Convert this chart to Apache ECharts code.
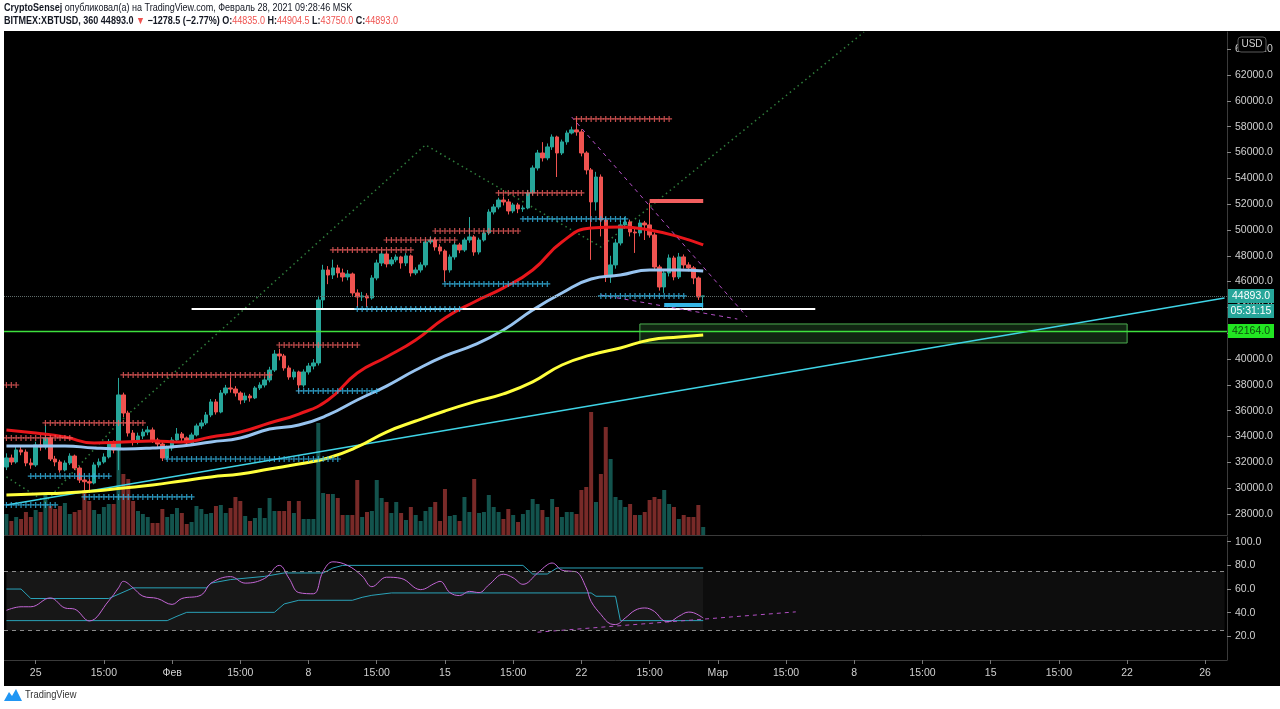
<!DOCTYPE html>
<html>
<head>
<meta charset="utf-8">
<script src="https://cdn.jsdelivr.net/npm/echarts@6/dist/echarts.min.js"></script>
<style>
  html, body { margin: 0; padding: 0; background: #fff; }
  #chart { width: 1280px; height: 709px; }
</style>
</head>
<body>
<div id="chart"></div>
<script>
// 6h slots (candle time), Jan 23 2021 .. end of March
const slotCount = 251;
const startTime = Date.UTC(2021, 0, 23, 0);
const categories = [];
for (let k = 0; k < slotCount; k++) {
  categories.push(new Date(startTime + k * 6 * 3600e3).toISOString().slice(0, 13));
}

// x axis tick labels (slot index -> text)
const tickIdx = [6, 20, 34, 48, 62, 76, 90, 104, 118, 132, 146, 160, 174, 188, 202, 216, 230, 246];
const tickText = ['25', '15:00', 'Фев', '15:00', '8', '15:00', '15', '15:00', '22', '15:00', 'Мар', '15:00', '8', '15:00', '15', '15:00', '22', '26'];

// candles, BITMEX:XBTUSD 360
const opens = [
  31640, 32340, 32030, 32960, 32800, 31950, 31800, 33350, 33190, 33890,
  32260, 32030, 31410, 31950, 32490, 31560, 30630, 30500, 30400, 31800,
  32030, 32420, 33580, 32960, 37220, 35820, 34270, 33580, 34040, 34350,
  34510, 33730, 33420, 32340, 33110, 33730, 34200, 33890, 33500, 34120,
  34820, 35050, 35670, 36680, 35900, 37370, 37760, 37680, 37370, 36830,
  37140, 36990, 37760, 37990, 38380, 39150, 40390, 40240, 39310, 38610,
  39000, 37990, 39000, 39460, 39700, 44580, 46900, 46510, 47060, 46670,
  46360, 46590, 45120, 44810, 44890, 44730, 46280, 47440, 48140, 47370,
  47680, 47910, 47440, 47990, 46670, 46900, 47290, 49070, 49220, 48680,
  48370, 46900, 47910, 48840, 48450, 49220, 49460, 48290, 49220, 49770,
  51390, 51780, 52320, 52170, 51470, 51940, 51630, 51700, 52870, 54800,
  55960, 55580, 56430, 57200, 55960, 56820, 57510, 57750, 57590, 55960,
  54650, 52170, 54100, 50770, 46360, 47290, 48990, 50390, 50620, 49840,
  49770, 50540, 50390, 49610, 47130, 45580, 46670, 47830, 46360, 47910,
  47290, 47060, 46280, 44835
];
const closes = [
  32340, 32030, 32960, 32800, 31950, 31800, 33350, 33190, 33890, 32260,
  32030, 31410, 31950, 32490, 31560, 30630, 30500, 30400, 31800, 32030,
  32420, 33580, 32960, 37220, 35820, 34270, 33580, 34040, 34350, 34510,
  33730, 33420, 32340, 33110, 33730, 34200, 33890, 33500, 34120, 34820,
  35050, 35670, 36680, 35900, 37370, 37760, 37680, 37370, 36830, 37140,
  36990, 37760, 37990, 38380, 39150, 40390, 40240, 39310, 38610, 39000,
  37990, 39000, 39460, 39700, 44580, 46900, 46510, 47060, 46670, 46360,
  46590, 45120, 44810, 44890, 44730, 46280, 47440, 48140, 47370, 47680,
  47910, 47440, 47990, 46670, 46900, 47290, 49070, 49220, 48680, 48370,
  46900, 47910, 48840, 48450, 49220, 49460, 48290, 49220, 49770, 51390,
  51780, 52320, 52170, 51470, 51940, 51630, 51700, 52870, 54800, 55960,
  55580, 56430, 57200, 55960, 56820, 57510, 57750, 57590, 55960, 54650,
  52170, 54100, 50770, 46360, 47290, 48990, 50390, 50620, 49840, 49770,
  50540, 50390, 49610, 47130, 45580, 46670, 47830, 46360, 47910, 47290,
  47060, 46280, 44810, 44893
];
const lows = [
  31400, 31800, 31900, 32550, 31700, 31500, 31650, 32900, 33000, 32100,
  31700, 31200, 31300, 31800, 31400, 30400, 29700, 29630, 30300, 31600,
  31900, 32300, 32700, 31400, 35500, 34000, 33300, 33400, 33800, 34100,
  33500, 33200, 32100, 32200, 32900, 33600, 33600, 33300, 33400, 34000,
  34600, 34900, 35500, 35700, 35800, 37200, 37400, 37100, 36500, 36600,
  36700, 36900, 37600, 37800, 38200, 39000, 39900, 39100, 38400, 38400,
  37400, 37800, 38800, 39200, 39500, 43900, 45800, 46200, 46300, 46000,
  46100, 44900, 44030, 44500, 44030, 44600, 46100, 47200, 47100, 47200,
  47500, 47000, 47200, 46400, 46500, 46700, 47100, 48900, 48400, 48100,
  45970, 46700, 47700, 48200, 48300, 49000, 48000, 48100, 49100, 49600,
  51200, 51600, 51900, 51200, 51300, 51300, 51400, 51600, 52700, 54600,
  55300, 55400, 56200, 54100, 55800, 56600, 57400, 57300, 55700, 54300,
  47680, 51500, 49500, 45970, 45900, 47000, 48800, 50100, 49500, 48220,
  49500, 49220, 49400, 46900, 45300, 45120, 46400, 46100, 46200, 47000,
  46800, 45800, 44580, 43750
];
const highs = [
  32700, 32600, 33250, 33300, 33000, 32300, 33600, 33700, 34890, 34000,
  32500, 32200, 32150, 32700, 32600, 31700, 30900, 30700, 32000, 32300,
  32700, 33800, 33700, 38540, 37400, 36000, 34500, 34300, 34600, 34800,
  34700, 33900, 33600, 33300, 33950, 34660, 34350, 34000, 34300, 35000,
  35300, 35900, 36900, 36900, 37600, 38000, 38540, 37900, 37500, 37400,
  37300, 37900, 38200, 38600, 39400, 40700, 40800, 40400, 39500, 39200,
  39100, 39200, 39700, 40000, 44900, 47300, 47200, 47700, 47300, 47000,
  46900, 46700, 45400, 45200, 45100, 46500, 47700, 48400, 48300, 47900,
  48100, 48000, 48200, 48100, 47100, 47500, 49300, 49500, 49400, 48900,
  48500, 48100, 49100, 49000, 49400, 51000, 49600, 49400, 50000, 51600,
  52000, 52500, 52600, 52400, 52100, 52100, 51900, 53100, 55000, 56200,
  56800, 56700, 57400, 57300, 57000, 57700, 58000, 58670, 57800, 56100,
  54800, 54500, 54300, 51000, 48000, 49300, 50700, 51000, 50800, 50100,
  50800, 50700, 52090, 49800, 47300, 46900, 48100, 48000, 48220, 48100,
  47500, 47200, 46400, 44904.5
];
const volumes = [
  21, 14, 18, 16, 23, 18, 25, 23, 41, 29, 26, 29, 32, 21, 23, 25, 45, 34, 25, 21,
  28, 31, 31, 85, 61, 56, 34, 24, 21, 18, 12, 12, 26, 18,
  21, 27, 22, 11, 13, 29, 26, 21, 22, 29, 30, 22, 27, 38, 34, 19, 14, 17, 27, 17,
  37, 24, 24, 24, 34, 22, 34, 16, 16, 16, 112, 42, 41, 41, 37,
  20, 20, 20, 55, 18, 23, 24, 55, 37, 33, 22, 33, 22, 15, 28, 20, 14, 24, 28, 33,
  14, 46, 19, 20, 14, 38, 23, 56, 22, 23, 40, 28, 23,
  16, 26, 20, 13, 21, 25, 36, 31, 25, 18, 36, 28, 18, 23, 23, 21, 45, 48, 123, 33,
  61, 108, 76, 38, 35, 28, 31, 20, 20, 23, 35, 38, 36, 45, 31, 28, 16, 20, 18, 18, 30, 8
];

// moving averages, read every 6th candle
const maIdx = [0, 6, 12, 18, 24, 30, 36, 42, 48, 54, 60, 66, 72, 78, 84, 90, 96, 102, 108, 114, 120, 126, 132, 138, 143];
const maRed = [34510, 34270, 33960, 33500, 33580, 33660, 33580, 33960, 34350, 35050, 35740, 36830, 38920, 40160, 41480, 43180, 44420, 45510, 46900, 49070, 50150, 50230, 50000, 49460, 48840];
const maBlue = [33270, 33270, 33270, 33110, 33040, 33110, 33270, 33580, 33890, 34580, 34890, 35670, 36830, 37910, 39150, 40240, 41090, 42250, 43800, 45120, 46200, 46510, 46900, 46900, 46820];
const maYellow = [29470, 29550, 29630, 29780, 30010, 30250, 30560, 30870, 31100, 31490, 31870, 32340, 33190, 34350, 35200, 35980, 36680, 37300, 38230, 39540, 40320, 40860, 41480, 41710, 41870];

// cross levels: [from slot, to slot, price]
const redRuns = [[0, 2, 37990], [24, 54, 38770], [0, 13, 33890], [8, 28, 35050], [56, 72, 41090], [67, 83, 48450], [78, 92, 49220], [88, 105, 49920], [101, 118, 52870], [117, 136, 58600]];
const blueRuns = [[0, 10, 28700], [5, 21, 30940], [16, 38, 29320], [33, 68, 32260], [60, 76, 37530], [72, 93, 43880], [90, 111, 45820], [106, 127, 50850], [122, 139, 44890]];
const redBar = [[132, 52245], [143, 52245]];
const blueBar = [[135, 44190], [143, 44190]];

// drawings
const whiteLine = [[38, 43880], [166, 43880]];
const cyanTrend = [[0, 28700], [250, 44730]];
const greenZigzag = [[0, 30870], [8, 28930], [23, 35050], [86, 56580], [122, 48680], [176, 65330]];
const wedgeUpper = [[116, 58750], [152, 43260]];
const wedgeLower = [[122, 44960], [150, 43100]];
const boxTop = 42717, boxBottom = 41246, boxFrom = 130, boxTo = 230;
const lastPrice = 44893.0, levelPrice = 42164.0;

const priceTicks = [28000, 30000, 32000, 34000, 36000, 38000, 40000, 42000, 44000, 46000, 48000, 50000, 52000, 54000, 56000, 58000, 60000, 62000, 64000];
const rsiTicks = [20, 40, 60, 80, 100];

// stoch / rsi pane
const rsiIdx = [0, 3, 5, 9, 12, 14, 17, 21, 23, 24, 26, 28, 31, 34, 36, 40, 42, 46, 49, 53, 56, 58, 60, 63, 65, 67, 70, 73, 75, 78, 81, 85, 88, 89, 91, 93, 95, 97, 99, 102, 104, 106, 109, 111, 112, 114, 116, 117, 119, 120, 122, 124, 125, 127, 129, 131, 133, 135, 136, 138, 140, 141, 143];
const rsiVal = [42, 45, 45, 52.5, 44, 43, 33, 50, 61, 66.5, 61, 54, 52, 47, 52, 55, 65, 70.5, 65, 69, 80, 69, 57, 56, 75, 83, 80, 71, 62, 70, 69, 59.5, 65, 66.5, 57, 54.5, 58, 57, 63.5, 72.5, 69.5, 64, 73.5, 80.5, 82, 76, 75, 74.5, 61, 49.5, 38.5, 30.5, 30, 35.5, 42, 44, 41, 33, 32.5, 37, 40.5, 40, 35.5];
const rsiUpIdx = [0, 3, 5, 21, 26, 41, 42, 46, 53, 57, 65, 67, 69, 106, 108, 111, 113, 143];
const rsiUpVal = [60, 60, 52, 52, 61, 61, 65, 68, 70.7, 73.6, 73.6, 77.8, 80, 80, 72.7, 72.7, 77.8, 77.8];
const rsiLoIdx = [0, 33, 35, 37, 55, 57, 60, 71, 73, 75, 79, 120, 121, 125, 126, 143];
const rsiLoVal = [33.3, 33.3, 37, 40.3, 40.3, 47.4, 50.5, 50.5, 53, 54.7, 56.7, 56.7, 53.9, 53.9, 33.3, 33.3];
const rsiTrend = [[109, 23.5], [162, 40.7]];

const UP = '#26a69a', DOWN = '#ef5350';
const FONT = '"Liberation Sans", Arial, sans-serif';
const crossPath = 'path://M2,0H3V2H5V3H3V5H2V3H0V2H2Z';

function pairs(idx, vals) {
  return idx.map((k, j) => [k, vals[j]]);
}
function runPoints(runs) {
  const pts = [];
  runs.forEach(r => {
    for (let k = r[0]; k <= r[1]; k++) pts.push([k, r[2]]);
  });
  return pts;
}
function showTick(idx) {
  return tickIdx.indexOf(idx) >= 0;
}
function hLine(name, value, color, type, width) {
  return {
    name: name, type: 'line', xAxisIndex: 0, yAxisIndex: 0, z: 2, data: [], symbol: 'none',
    markLine: {
      silent: true, symbol: 'none', label: { show: false },
      lineStyle: { color: color, width: width, type: type, opacity: 1 },
      emphasis: { disabled: true },
      data: [{ yAxis: value }]
    }
  };
}

const chart = echarts.init(document.getElementById('chart'));

const candleData = opens.map((o, i) => [o, closes[i], lows[i], highs[i]]);
const volumeData = volumes.map((v, i) => ({
  value: v,
  itemStyle: { color: closes[i] >= opens[i] ? 'rgba(38,166,154,0.5)' : 'rgba(239,83,80,0.5)' }
}));

const headStyle = { fontSize: 10.5, fontFamily: FONT, fill: '#131722' };
const staticGraphic = [
  { type: 'rect', z: 100, shape: { x: 0, y: 0, width: 1280, height: 31 }, style: { fill: '#fff' } },
  { type: 'rect', z: 100, shape: { x: 0, y: 686, width: 1280, height: 23 }, style: { fill: '#fff' } },
  { type: 'rect', z: 100, shape: { x: 0, y: 0, width: 4, height: 709 }, style: { fill: '#fff' } },
  {
    type: 'text', z: 101, x: 4, y: 8, scaleX: 0.86,
    style: Object.assign({
      text: '{b|CryptoSensej} опубликовал(а) на TradingView.com, Февраль 28, 2021 09:28:46 MSK',
      verticalAlign: 'middle',
      rich: { b: Object.assign({ fontWeight: 'bold' }, headStyle) }
    }, headStyle)
  },
  {
    type: 'text', z: 101, x: 4, y: 21, scaleX: 0.86,
    style: Object.assign({
      text: '{b|BITMEX:XBTUSD, 360 44893.0} {r|▼} {b|−1278.5 (−2.77%)} {b|O:}{r|44835.0} {b|H:}{r|44904.5} {b|L:}{r|43750.0} {b|C:}{r|44893.0}',
      verticalAlign: 'middle',
      rich: {
        b: Object.assign({ fontWeight: 'bold' }, headStyle),
        r: { fontSize: 10.5, fontFamily: FONT, fill: '#ef5350' }
      }
    }, headStyle)
  },
  {
    type: 'polygon', z: 101,
    shape: { points: [[4, 701], [9, 692], [12, 696], [16, 689], [22, 701]] },
    style: { fill: '#2196f3' }
  },
  {
    type: 'text', z: 101, x: 25, y: 695, scaleX: 0.85,
    style: { text: 'TradingView', fontSize: 11, fontFamily: FONT, fill: '#333', verticalAlign: 'middle' }
  }
];

const option = {
  backgroundColor: '#000',
  animation: false,
  grid: [
    { left: 4, right: 53, top: 32, height: 503 },
    { left: 4, right: 53, top: 537, height: 123 }
  ],
  xAxis: [
    {
      type: 'category', gridIndex: 0, data: categories, boundaryGap: true,
      axisLine: { show: true, lineStyle: { color: '#3a3a3a' } },
      axisTick: { show: false }, axisLabel: { show: false }, splitLine: { show: false }
    },
    {
      type: 'category', gridIndex: 1, data: categories, boundaryGap: true,
      axisLine: { show: true, lineStyle: { color: '#3a3a3a' } },
      axisTick: { show: true, interval: showTick, alignWithLabel: true, length: 4, lineStyle: { color: '#777' } },
      axisLabel: {
        interval: showTick, color: '#d0d0d0', fontSize: 10.5, fontFamily: FONT, margin: 8,
        formatter: (v, idx) => tickText[tickIdx.indexOf(idx)]
      },
      splitLine: { show: false }
    }
  ],
  yAxis: [
    {
      type: 'value', gridIndex: 0, position: 'right', min: 26373, max: 65331,
      axisLine: { show: true, lineStyle: { color: '#3a3a3a' } },
      axisTick: { show: true, length: 4, customValues: priceTicks, lineStyle: { color: '#888' } },
      axisLabel: {
        customValues: priceTicks, color: '#d0d0d0', fontSize: 10.5, fontFamily: FONT, margin: 8,
        formatter: v => v.toFixed(1)
      },
      splitLine: { show: false }
    },
    {
      type: 'value', gridIndex: 0, min: 0, max: 503, show: false, splitLine: { show: false }
    },
    {
      type: 'value', gridIndex: 1, position: 'right', min: 0, max: 104,
      axisLine: { show: true, lineStyle: { color: '#3a3a3a' } },
      axisTick: { show: true, length: 4, customValues: rsiTicks, lineStyle: { color: '#888' } },
      axisLabel: {
        customValues: rsiTicks, color: '#d0d0d0', fontSize: 10.5, fontFamily: FONT, margin: 8,
        formatter: v => v.toFixed(1)
      },
      splitLine: { show: false }
    }
  ],
  series: [
    {
      name: 'volume', type: 'bar', xAxisIndex: 0, yAxisIndex: 1, z: 1,
      data: volumeData, barCategoryGap: '18%'
    },
    {
      name: 'zigzag', type: 'line', xAxisIndex: 0, yAxisIndex: 0, z: 2,
      data: greenZigzag, symbol: 'none',
      lineStyle: { color: '#2f7d3c', width: 1.5, type: [1.5, 3.5] }
    },
    hLine('level', levelPrice, '#3ee03e', 'solid', 1.3),
    hLine('last', lastPrice, '#5f6b6a', 'dotted', 1),
    {
      name: 'box', type: 'line', xAxisIndex: 0, yAxisIndex: 0, z: 2, data: [], symbol: 'none',
      markArea: {
        silent: true,
        itemStyle: { color: 'rgba(76,175,80,0.22)', borderColor: '#4caf50', borderWidth: 1 },
        data: [[{ xAxis: boxFrom, yAxis: boxTop }, { xAxis: boxTo, yAxis: boxBottom }]]
      }
    },
    {
      name: 'trend', type: 'line', xAxisIndex: 0, yAxisIndex: 0, z: 2,
      data: cyanTrend, symbol: 'none', lineStyle: { color: '#3fd4e6', width: 1.5 }
    },
    {
      name: 'XBTUSD', type: 'candlestick', xAxisIndex: 0, yAxisIndex: 0, z: 3,
      data: candleData, barWidth: 4,
      itemStyle: { color: UP, color0: DOWN, borderColor: UP, borderColor0: DOWN, borderWidth: 1 }
    },
    {
      name: 'MA yellow', type: 'line', xAxisIndex: 0, yAxisIndex: 0, z: 4,
      data: pairs(maIdx, maYellow), smooth: true, symbol: 'none',
      lineStyle: { color: '#ffff3c', width: 3 }
    },
    {
      name: 'MA blue', type: 'line', xAxisIndex: 0, yAxisIndex: 0, z: 4,
      data: pairs(maIdx, maBlue), smooth: true, symbol: 'none',
      lineStyle: { color: '#97c3ef', width: 3 }
    },
    {
      name: 'MA red', type: 'line', xAxisIndex: 0, yAxisIndex: 0, z: 4,
      data: pairs(maIdx, maRed), smooth: true, symbol: 'none',
      lineStyle: { color: '#e8161b', width: 3 }
    },
    {
      name: 'white', type: 'line', xAxisIndex: 0, yAxisIndex: 0, z: 4,
      data: whiteLine, symbol: 'none', lineStyle: { color: '#ffffff', width: 2 }
    },
    {
      name: 'wedge up', type: 'line', xAxisIndex: 0, yAxisIndex: 0, z: 4,
      data: wedgeUpper, symbol: 'none', lineStyle: { color: '#b24fc4', width: 1, type: [4, 4] }
    },
    {
      name: 'wedge low', type: 'line', xAxisIndex: 0, yAxisIndex: 0, z: 4,
      data: wedgeLower, symbol: 'none', lineStyle: { color: '#b24fc4', width: 1, type: [4, 4] }
    },
    {
      name: 'res', type: 'scatter', xAxisIndex: 0, yAxisIndex: 0, z: 5,
      data: runPoints(redRuns), symbol: crossPath, symbolSize: 6,
      itemStyle: { color: '#f25f5f' }
    },
    {
      name: 'sup', type: 'scatter', xAxisIndex: 0, yAxisIndex: 0, z: 5,
      data: runPoints(blueRuns), symbol: crossPath, symbolSize: 6,
      itemStyle: { color: '#35b6e6' }
    },
    {
      name: 'res bar', type: 'line', xAxisIndex: 0, yAxisIndex: 0, z: 5,
      data: redBar, symbol: 'none', lineStyle: { color: '#f25f5f', width: 4 }
    },
    {
      name: 'sup bar', type: 'line', xAxisIndex: 0, yAxisIndex: 0, z: 5,
      data: blueBar, symbol: 'none', lineStyle: { color: '#35b6e6', width: 4 }
    },
    {
      name: 'band up', type: 'line', xAxisIndex: 1, yAxisIndex: 2, z: 3,
      data: pairs(rsiUpIdx, rsiUpVal), symbol: 'none', lineStyle: { color: '#2aa2b8', width: 1 }
    },
    {
      name: 'band low', type: 'line', xAxisIndex: 1, yAxisIndex: 2, z: 3,
      data: pairs(rsiLoIdx, rsiLoVal), symbol: 'none', lineStyle: { color: '#2aa2b8', width: 1 }
    },
    {
      name: 'rsi trend', type: 'line', xAxisIndex: 1, yAxisIndex: 2, z: 3,
      data: rsiTrend, symbol: 'none', lineStyle: { color: '#b24fc4', width: 1, type: [4, 4] }
    },
    {
      name: 'RSI', type: 'line', xAxisIndex: 1, yAxisIndex: 2, z: 4,
      data: pairs(rsiIdx, rsiVal), smooth: 0.4, symbol: 'none',
      lineStyle: { color: '#c466d6', width: 1 },
      markArea: {
        silent: true,
        data: [
          [{ xAxis: 0, yAxis: 75, itemStyle: { color: 'rgba(255,255,255,0.09)' } }, { xAxis: 143, yAxis: 25 }],
          [{ xAxis: 143, yAxis: 75, itemStyle: { color: 'rgba(255,255,255,0.05)' } }, { xAxis: 250, yAxis: 25 }]
        ]
      },
      markLine: {
        silent: true, symbol: 'none', label: { show: false },
        lineStyle: { color: '#8c8c8c', width: 1, type: [4, 4] },
        data: [{ yAxis: 75 }, { yAxis: 25 }]
      }
    }
  ],
  graphic: staticGraphic
};

chart.setOption(option);

// price labels on the right scale
const yLast = chart.convertToPixel({ yAxisIndex: 0 }, lastPrice);
const yLevel = chart.convertToPixel({ yAxisIndex: 0 }, levelPrice);
function axisTag(y, text, bg, fg) {
  return [
    { type: 'rect', z: 102, shape: { x: 1228, y: y - 7, width: 46, height: 14 }, style: { fill: bg } },
    {
      type: 'text', z: 103, x: 1251, y: y,
      style: { text: text, fontSize: 10.5, fontFamily: FONT, fill: fg, align: 'center', verticalAlign: 'middle' }
    }
  ];
}
const tagGraphic = [].concat(
  axisTag(yLast, '44893.0', '#26a69a', '#ffffff'),
  axisTag(yLast + 15, '05:31:15', '#26a69a', '#ffffff'),
  axisTag(yLevel, '42164.0', '#22e622', '#0d4d0d'),
  [
    { type: 'rect', z: 102, shape: { x: 1238, y: 37, width: 28, height: 15, r: 3 }, style: { fill: '#000', stroke: '#5a5a5a', lineWidth: 1 } },
    { type: 'text', z: 103, x: 1252, y: 44.5, style: { text: 'USD', fontSize: 10, fontFamily: FONT, fill: '#d0d0d0', align: 'center', verticalAlign: 'middle' } }
  ]
);
chart.setOption({ graphic: staticGraphic.concat(tagGraphic) });
</script>
</body>
</html>
